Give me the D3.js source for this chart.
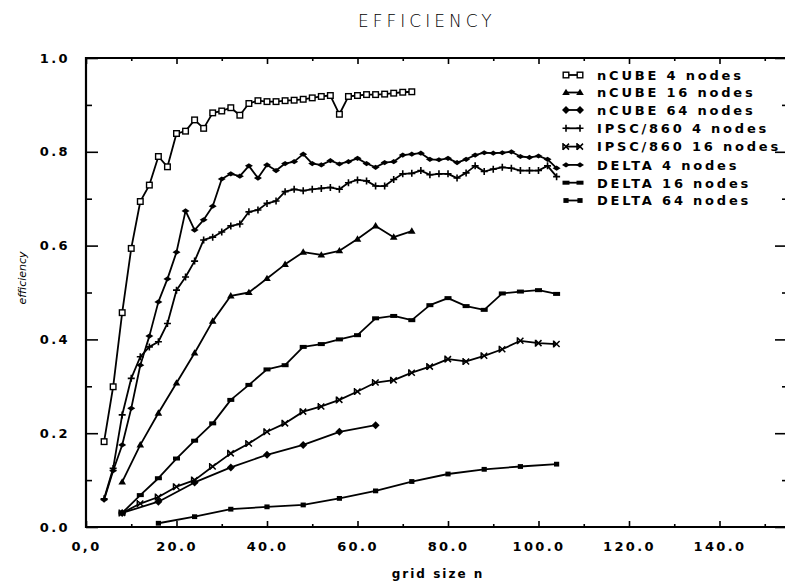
<!DOCTYPE html>
<html>
<head>
<meta charset="utf-8">
<script src="https://cdn.jsdelivr.net/npm/d3@7"></script>
<style>
  html, body { margin: 0; padding: 0; background: #fff; }
  svg { display: block; }
  .tick-label { font-family: "DejaVu Sans", sans-serif; font-weight: bold; font-size: 13px; letter-spacing: 2.4px; fill: #000; }
  .legend-label { font-family: "DejaVu Sans", sans-serif; font-weight: bold; font-size: 13px; letter-spacing: 2.8px; fill: #000; }
</style>
</head>
<body>
<svg id="chart" width="785" height="585"></svg>
<script>
// ---- axis ticks ----
const xTickMajor  = [0, 20, 40, 60, 80, 100, 120, 140];
const xTickLabels = ["0,0", "20.0", "40.0", "60.0", "80.0", "100.0", "120.0", "140.0"];
const xTickMinor  = [10, 30, 50, 70, 90, 110, 130, 150];
const yTickMajor  = [0, 0.2, 0.4, 0.6, 0.8, 1.0];
const yTickLabels = ["0.0", "0.2", "0.4", "0.6", "0.8", "1.0"];
const yTickMinor  = [0.1, 0.3, 0.5, 0.7, 0.9];

// ---- grid sizes (n) ----
const gridStep2To72  = [4,6,8,10,12,14,16,18,20,22,24,26,28,30,32,34,36,38,40,42,44,46,48,50,52,54,56,58,60,62,64,66,68,70,72];
const gridStep2To104 = [4,6,8,10,12,14,16,18,20,22,24,26,28,30,32,34,36,38,40,42,44,46,48,50,52,54,56,58,60,62,64,66,68,70,72,74,76,78,80,82,84,86,88,90,92,94,96,98,100,102,104];
const gridStep4To72  = [8,12,16,20,24,28,32,36,40,44,48,52,56,60,64,68,72];
const gridStep4To104 = [8,12,16,20,24,28,32,36,40,44,48,52,56,60,64,68,72,76,80,84,88,92,96,100,104];
const gridStep8To64  = [8,16,24,32,40,48,56,64];
const gridStep8To104 = [16,24,32,40,48,56,64,72,80,88,96,104];

// ---- efficiency values ----
const nCube4 = [0.182,0.299,0.457,0.594,0.694,0.729,0.790,0.768,0.839,0.844,0.868,0.850,0.883,0.887,0.894,0.878,0.903,0.909,0.907,0.907,0.909,0.910,0.912,0.915,0.918,0.920,0.880,0.918,0.920,0.922,0.922,0.923,0.925,0.927,0.928];
const nCube16 = [0.096,0.175,0.243,0.307,0.371,0.439,0.493,0.500,0.530,0.560,0.586,0.580,0.589,0.614,0.642,0.618,0.631];
const nCube64 = [0.030,0.054,0.095,0.127,0.154,0.175,0.203,0.217];
const ipsc4 = [0.060,0.125,0.239,0.317,0.363,0.384,0.395,0.434,0.505,0.533,0.567,0.612,0.618,0.629,0.642,0.646,0.672,0.676,0.690,0.695,0.715,0.720,0.717,0.720,0.722,0.724,0.720,0.734,0.740,0.738,0.727,0.727,0.741,0.753,0.754,0.760,0.751,0.753,0.753,0.744,0.755,0.770,0.758,0.763,0.767,0.765,0.760,0.760,0.760,0.770,0.747];
const ipsc16 = [0.030,0.050,0.064,0.086,0.100,0.129,0.157,0.178,0.203,0.221,0.246,0.257,0.271,0.289,0.308,0.313,0.329,0.342,0.358,0.353,0.365,0.379,0.397,0.392,0.390];
const delta4 = [0.058,0.120,0.175,0.253,0.345,0.407,0.480,0.529,0.586,0.674,0.633,0.655,0.684,0.742,0.753,0.748,0.770,0.744,0.772,0.760,0.775,0.779,0.795,0.775,0.772,0.781,0.774,0.779,0.786,0.775,0.767,0.777,0.779,0.793,0.795,0.797,0.784,0.783,0.786,0.777,0.784,0.793,0.798,0.797,0.798,0.800,0.790,0.788,0.791,0.784,0.765];
const delta16 = [0.030,0.068,0.104,0.146,0.184,0.221,0.271,0.303,0.336,0.345,0.384,0.390,0.400,0.409,0.445,0.450,0.441,0.473,0.488,0.471,0.463,0.498,0.502,0.505,0.497];
const delta64 = [0.008,0.022,0.038,0.043,0.047,0.061,0.077,0.097,0.113,0.123,0.129,0.134];

const seriesNames   = ["nCUBE 4 nodes", "nCUBE 16 nodes", "nCUBE 64 nodes", "IPSC/860 4 nodes", "IPSC/860 16 nodes", "DELTA 4 nodes", "DELTA 16 nodes", "DELTA 64 nodes"];
const seriesGrids   = [gridStep2To72, gridStep4To72, gridStep8To64, gridStep2To104, gridStep4To104, gridStep2To104, gridStep4To104, gridStep8To104];
const seriesValues  = [nCube4, nCube16, nCube64, ipsc4, ipsc16, delta4, delta16, delta64];
const seriesMarkers = ["openSquare", "triangle", "diamond", "plus", "bowtie", "arrow", "bar", "square"];

// ---- layout ----
const svg = d3.select("#chart");
const plotLeft = 86, plotTop = 58, plotBottom = 527, plotRight = 786;
const x = d3.scaleLinear().domain([0, 160]).range([plotLeft, plotLeft + 160 * 4.525]);
const y = d3.scaleLinear().domain([0, 1]).range([plotBottom, plotTop]);

// title
svg.append("text")
  .attr("x", 358).attr("y", 27)
  .style("font-family", "'DejaVu Sans', sans-serif")
  .style("font-weight", "300")
  .style("font-size", "17px")
  .style("letter-spacing", "4px")
  .text("EFFICIENCY");

// axis titles
svg.append("text")
  .attr("x", 438).attr("y", 578)
  .attr("text-anchor", "middle")
  .style("font-family", "'DejaVu Sans', sans-serif")
  .style("font-weight", "bold")
  .style("font-size", "12px")
  .style("letter-spacing", "2px")
  .text("grid size n");

svg.append("text")
  .attr("transform", "translate(26,278) rotate(-90)")
  .attr("text-anchor", "middle")
  .style("font-family", "'DejaVu Sans', sans-serif")
  .style("font-style", "italic")
  .style("font-size", "11px")
  .text("efficiency");

// ---- axes ----
function styleAxis(g) {
  g.select(".domain").remove();
  g.selectAll(".tick line").attr("stroke", "#000").attr("stroke-width", 1.6);
  g.selectAll(".tick text").attr("class", "tick-label").attr("fill", "#000");
}

const xLabelOf = v => xTickLabels[xTickMajor.indexOf(v)];
const yLabelOf = v => yTickLabels[yTickMajor.indexOf(v)];

// bottom
svg.append("g").attr("transform", `translate(0,${plotBottom})`)
  .call(d3.axisBottom(x).tickValues(xTickMajor).tickSize(-6).tickPadding(15).tickFormat(xLabelOf))
  .call(styleAxis);
svg.append("g").attr("transform", `translate(0,${plotBottom})`)
  .call(d3.axisBottom(x).tickValues(xTickMinor).tickSize(-3).tickFormat(""))
  .call(styleAxis);
// top
svg.append("g").attr("transform", `translate(0,${plotTop})`)
  .call(d3.axisTop(x).tickValues(xTickMajor).tickSize(-6).tickFormat(""))
  .call(styleAxis);
svg.append("g").attr("transform", `translate(0,${plotTop})`)
  .call(d3.axisTop(x).tickValues(xTickMinor).tickSize(-3).tickFormat(""))
  .call(styleAxis);
// left
svg.append("g").attr("transform", `translate(${plotLeft},0)`)
  .call(d3.axisLeft(y).tickValues(yTickMajor).tickSize(-12).tickPadding(16).tickFormat(yLabelOf))
  .call(styleAxis);
svg.append("g").attr("transform", `translate(${plotLeft},0)`)
  .call(d3.axisLeft(y).tickValues(yTickMinor).tickSize(-6).tickFormat(""))
  .call(styleAxis);
// right
svg.append("g").attr("transform", `translate(${plotRight},0)`)
  .call(d3.axisRight(y).tickValues(yTickMajor).tickSize(-11).tickFormat(""))
  .call(styleAxis);
svg.append("g").attr("transform", `translate(${plotRight},0)`)
  .call(d3.axisRight(y).tickValues(yTickMinor).tickSize(-4).tickFormat(""))
  .call(styleAxis);

// frame
svg.append("path")
  .attr("d", `M${plotRight + 4},${plotTop}H${plotLeft}V${plotBottom}H${plotRight + 4}`)
  .attr("fill", "none").attr("stroke", "#000").attr("stroke-width", 2.2);

// ---- markers ----
function drawMarker(g, type, cx, cy) {
  const t = `translate(${cx},${cy})`;
  switch (type) {
    case "openSquare":
      g.append("rect").attr("x", cx - 2.8).attr("y", cy - 2.8).attr("width", 5.6).attr("height", 5.6)
        .attr("fill", "#fff").attr("stroke", "#000").attr("stroke-width", 1.4);
      break;
    case "triangle":
      g.append("path").attr("transform", t).attr("d", "M0,-3.8L3.8,2.6L-3.8,2.6Z").attr("fill", "#000");
      break;
    case "diamond":
      g.append("path").attr("transform", t).attr("d", "M0,-4L4,0L0,4L-4,0Z").attr("fill", "#000");
      break;
    case "plus":
      g.append("path").attr("transform", t).attr("d", "M-3.5,0H3.5M0,-3.5V3.5").attr("stroke", "#000").attr("stroke-width", 1.6);
      break;
    case "bowtie":
      g.append("path").attr("transform", t).attr("d", "M-3,-3L3,3M-3,3L3,-3M-3,-3.5V3.5").attr("stroke", "#000").attr("stroke-width", 1.5);
      break;
    case "arrow":
      g.append("path").attr("transform", t).attr("d", "M-4,0L0,-2.6L4,0L0,2.6Z").attr("fill", "#000");
      break;
    case "bar":
      g.append("rect").attr("x", cx - 3.5).attr("y", cy - 2).attr("width", 7).attr("height", 4).attr("fill", "#000");
      break;
    case "square":
      g.append("rect").attr("x", cx - 2.6).attr("y", cy - 2.4).attr("width", 5.2).attr("height", 4.8).attr("fill", "#000");
      break;
  }
}

// ---- series ----
const line = d3.line().x(d => x(d[0])).y(d => y(d[1]));
const dataG = svg.append("g");
seriesNames.forEach((name, i) => {
  const pts = seriesGrids[i].map((n, j) => [n, seriesValues[i][j]]);
  const g = dataG.append("g");
  g.append("path").datum(pts).attr("d", line)
    .attr("fill", "none").attr("stroke", "#000").attr("stroke-width", 1.8).attr("stroke-linejoin", "round");
  pts.forEach(p => drawMarker(g, seriesMarkers[i], x(p[0]), y(p[1])));
});

// ---- legend ----
const legendRowY = [75, 92.5, 110, 128.3, 146.6, 164.9, 182.7, 200.5];
const legendG = svg.append("g");
seriesNames.forEach((name, i) => {
  const cy = legendRowY[i];
  legendG.append("line").attr("x1", 566).attr("x2", 580).attr("y1", cy).attr("y2", cy)
    .attr("stroke", "#000").attr("stroke-width", 1.8);
  drawMarker(legendG, seriesMarkers[i], 566, cy);
  drawMarker(legendG, seriesMarkers[i], 580, cy);
  legendG.append("text").attr("class", "legend-label")
    .attr("x", 597).attr("y", cy + 4.8).text(name);
});
</script>
</body>
</html>
